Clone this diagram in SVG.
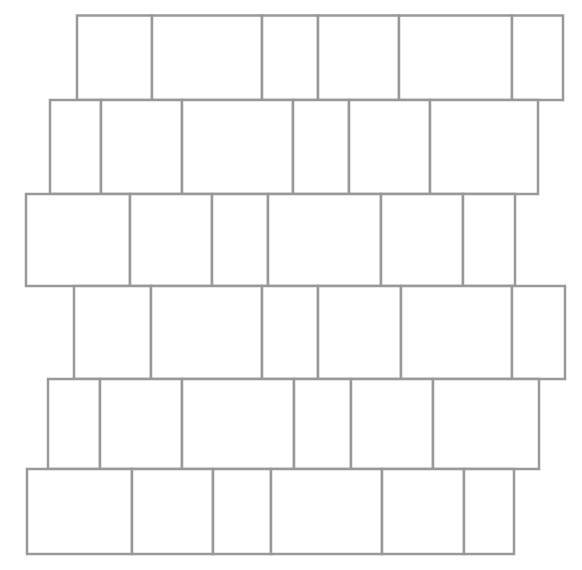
<svg xmlns="http://www.w3.org/2000/svg" width="582" height="570" viewBox="0 0 582 570">
<style>
rect.t{fill:#fff;stroke:#999;stroke-width:2.5}
</style>
<rect width="582" height="570" fill="#fff"/>
<g id="row1">
<rect class="t" x="77" y="15.5" width="75" height="84.5"/>
<rect class="t" x="152" y="15.5" width="110" height="84.5"/>
<rect class="t" x="262" y="15.5" width="56" height="84.5"/>
<rect class="t" x="318" y="15.5" width="81" height="84.5"/>
<rect class="t" x="399" y="15.5" width="113" height="84.5"/>
<rect class="t" x="512" y="15.5" width="51" height="84.5"/>
</g>
<g id="row2">
<rect class="t" x="50" y="100" width="51" height="94"/>
<rect class="t" x="101" y="100" width="81" height="94"/>
<rect class="t" x="182" y="100" width="111" height="94"/>
<rect class="t" x="293" y="100" width="56" height="94"/>
<rect class="t" x="349" y="100" width="81" height="94"/>
<rect class="t" x="430" y="100" width="108" height="94"/>
</g>
<g id="row3">
<rect class="t" x="26" y="194" width="104" height="92"/>
<rect class="t" x="130" y="194" width="82" height="92"/>
<rect class="t" x="212" y="194" width="56" height="92"/>
<rect class="t" x="268" y="194" width="113" height="92"/>
<rect class="t" x="381" y="194" width="82" height="92"/>
<rect class="t" x="463" y="194" width="52" height="92"/>
</g>
<g id="row4">
<rect class="t" x="74" y="286" width="77" height="93"/>
<rect class="t" x="151" y="286" width="111" height="93"/>
<rect class="t" x="262" y="286" width="56" height="93"/>
<rect class="t" x="318" y="286" width="83" height="93"/>
<rect class="t" x="401" y="286" width="111" height="93"/>
<rect class="t" x="512" y="286" width="53" height="93"/>
</g>
<g id="row5">
<rect class="t" x="48" y="379" width="52" height="90"/>
<rect class="t" x="100" y="379" width="82" height="90"/>
<rect class="t" x="182" y="379" width="112" height="90"/>
<rect class="t" x="294" y="379" width="57" height="90"/>
<rect class="t" x="351" y="379" width="82" height="90"/>
<rect class="t" x="433" y="379" width="106" height="90"/>
</g>
<g id="row6">
<rect class="t" x="27" y="469" width="105" height="85"/>
<rect class="t" x="132" y="469" width="81" height="85"/>
<rect class="t" x="213" y="469" width="58" height="85"/>
<rect class="t" x="271" y="469" width="111" height="85"/>
<rect class="t" x="382" y="469" width="82" height="85"/>
<rect class="t" x="464" y="469" width="50" height="85"/>
</g>
</svg>
